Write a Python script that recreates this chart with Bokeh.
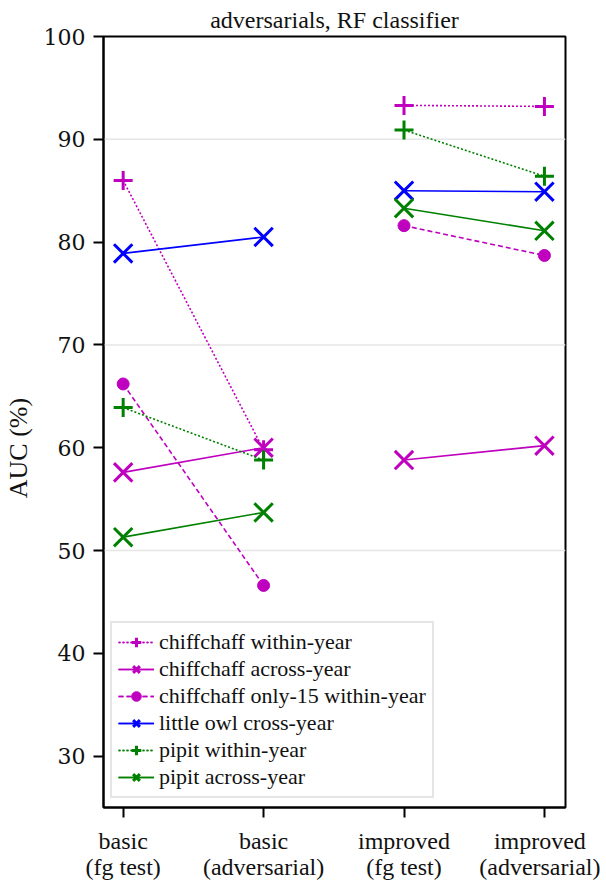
from bokeh.plotting import figure
from bokeh.models import Range1d, FixedTicker, Span
from bokeh.embed import file_html
from bokeh.resources import INLINE

# categories (x positions 0..3)
categories = ["basic\n(fg test)", "basic\n(adversarial)", "improved\n(fg test)", "improved\n(adversarial)"]
x_pos = [0, 1, 2, 3]

# series values (AUC %)
chiff_within = [86.0, 59.8, 93.3, 93.2]
chiff_across = [57.6, 60.0, 58.8, 60.2]
chiff_only15 = [66.2, 46.6, 81.6, 78.7]
owl_cross = [78.9, 80.5, 85.0, 84.9]
pipit_within = [63.9, 58.8, 90.9, 86.4]
pipit_across = [51.3, 53.7, 83.3, 81.1]

y_ticks = [30, 40, 50, 60, 70, 80, 90, 100]
grid_values = [50, 70, 90]
title_text = "adversarials, RF classifier"

MAG = "#bf00bf"
BLUE = "#0000ff"
GREEN = "#008000"

series = [
    ("chiffchaff within-year", chiff_within, MAG, "cross", "2 2"),
    ("chiffchaff across-year", chiff_across, MAG, "x", "solid"),
    ("chiffchaff only-15 within-year", chiff_only15, MAG, "circle", "5 3"),
    ("little owl cross-year", owl_cross, BLUE, "x", "solid"),
    ("pipit within-year", pipit_within, GREEN, "cross", "2 2"),
    ("pipit across-year", pipit_across, GREEN, "x", "solid"),
]
marker_size = {"cross": 19, "x": 26, "circle": 12}

p = figure(width=600, height=882, output_backend="svg", toolbar_location=None,
           x_range=Range1d(-0.14, 3.15), y_range=Range1d(25, 100),
           min_border_left=92, min_border_right=35, min_border_top=36, min_border_bottom=70)

p.title.text = title_text
p.title.align = "center"
p.title.vertical_align = "top"
p.title.text_font = "Liberation Serif"
p.title.text_font_size = "24px"
p.title.text_font_style = "normal"
p.title.text_color = "#111111"
p.title.standoff = 4

p.xgrid.visible = False
p.ygrid.visible = False
for g in grid_values:
    p.add_layout(Span(location=g, dimension="width", line_color="#e6e6e6", line_width=1.5, level="underlay"))

for name, vals, col, marker, dash in series:
    for seg in ([0, 1], [2, 3]):
        xs = [x_pos[i] for i in seg]
        ys = [vals[i] for i in seg]
        p.line(xs, ys, line_color=col, line_width=1.6, line_dash=dash, legend_label=name)
    if marker == "circle":
        p.scatter(x_pos, vals, marker="circle", size=marker_size[marker], fill_color=col,
                  line_color=col, legend_label=name)
    else:
        p.scatter(x_pos, vals, marker=marker, size=marker_size[marker], line_color=col,
                  line_width=3, legend_label=name)

p.outline_line_color = "black"
p.outline_line_width = 2
p.outline_line_alpha = 1

xa = p.xaxis[0]
xa.ticker = FixedTicker(ticks=x_pos)
xa.major_label_overrides = {x: c for x, c in zip(x_pos, categories)}
xa.minor_tick_line_color = None
xa.major_tick_line_width = 2
xa.major_tick_out = 10
xa.major_tick_in = 0
xa.axis_line_width = 2
xa.major_label_text_font = "Liberation Serif"
xa.major_label_text_font_size = "24px"
xa.major_label_text_line_height = 1.0
xa.major_label_text_color = "#111111"
xa.major_label_standoff = 10

ya = p.yaxis[0]
ya.ticker = FixedTicker(ticks=y_ticks)
ya.minor_tick_line_color = None
ya.major_tick_line_width = 2
ya.major_tick_out = 10
ya.major_tick_in = 0
ya.axis_line_width = 2
ya.major_label_text_font = "DejaVu Serif"
ya.major_label_text_font_size = "22px"
ya.major_label_text_color = "#111111"
ya.major_label_standoff = 8
ya.axis_label = "AUC (%)" + "\u00a0" * 8
ya.axis_label_text_font = "Liberation Serif"
ya.axis_label_text_font_size = "26px"
ya.axis_label_text_font_style = "normal"
ya.axis_label_text_color = "#111111"
ya.axis_label_standoff = 8

lg = p.legend[0]
lg.location = (7, 9)
lg.label_text_font = "Liberation Serif"
lg.label_text_font_size = "22px"
lg.label_text_color = "#111111"
lg.border_line_color = "#cccccc"
lg.border_line_width = 2
lg.background_fill_alpha = 0.85
lg.glyph_width = 36
lg.glyph_height = 24
lg.label_height = 22
lg.spacing = 1
lg.padding = 6
lg.margin = 0
lg.label_standoff = 5

open("out.html", "w").write(file_html(p, INLINE))
